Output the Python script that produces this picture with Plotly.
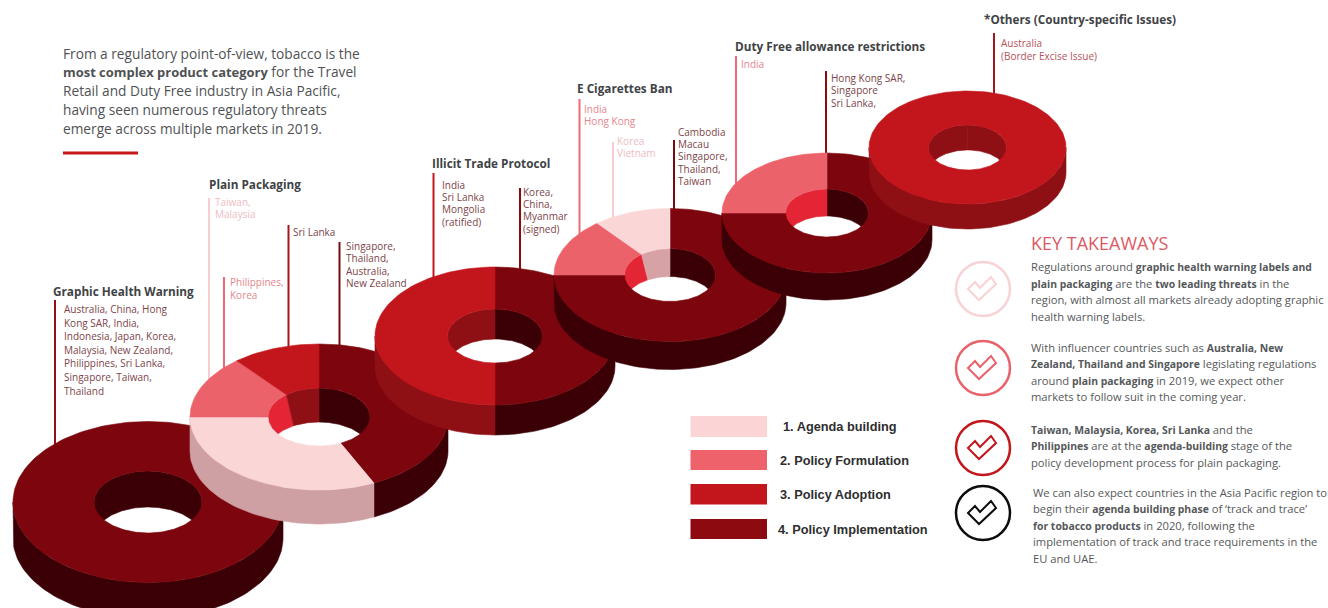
import re

import numpy as np
import plotly.graph_objects as go

# Policy stages used to colour the rings
STAGE_NAMES = ["1. Agenda building", "2. Policy Formulation", "3. Policy Adoption", "4. Policy Implementation"]

# Share of markets in each stage, clockwise from twelve o'clock
GHW_STAGES = [4]
GHW_SHARES = [100]
PLAIN_STAGES = [4, 1, 2, 3]
PLAIN_SHARES = [43, 32, 14, 11]
ILLICIT_STAGES = [4, 3]
ILLICIT_SHARES = [50, 50]
ECIG_STAGES = [4, 2, 1]
ECIG_SHARES = [75, 14.2, 10.8]
DUTY_STAGES = [4, 2]
DUTY_SHARES = [75, 25]
OTHERS_STAGES = [3]
OTHERS_SHARES = [100]

# Country call-outs
GHW_LABEL = ["Australia, China, Hong", "Kong SAR, India,", "Indonesia, Japan, Korea,", "Malaysia, New Zealand,",
             "Philippines, Sri Lanka,", "Singapore, Taiwan,", "Thailand"]
PLAIN_AGENDA = ["Taiwan,", "Malaysia"]
PLAIN_FORM = ["Philippines,", "Korea"]
PLAIN_ADOPT = ["Sri Lanka"]
PLAIN_IMPL = ["Singapore,", "Thailand,", "Australia,", "New Zealand"]
ILLICIT_ADOPT = ["India", "Sri Lanka", "Mongolia", "(ratified)"]
ILLICIT_IMPL = ["Korea,", "China,", "Myanmar", "(signed)"]
ECIG_FORM = ["India", "Hong Kong"]
ECIG_AGENDA = ["Korea", "Vietnam"]
ECIG_IMPL = ["Cambodia", "Macau", "Singapore,", "Thailand,", "Taiwan"]
DUTY_FORM = ["India"]
DUTY_IMPL = ["Hong Kong SAR,", "Singapore", "Sri Lanka,"]
OTHERS_ADOPT = ["Australia", "(Border Excise Issue)"]

INTRO = ["From a regulatory point-of-view, tobacco is the",
         "<b>most complex product category</b> for the Travel",
         "Retail and Duty Free industry in Asia Pacific,",
         "having seen numerous regulatory threats",
         "emerge across multiple markets in 2019."]
TAKEAWAY_1 = ["Regulations around <b>graphic health warning labels and</b>",
              "<b>plain packaging</b> are the <b>two leading threats</b> in the",
              "region, with almost all markets already adopting graphic",
              "health warning labels."]
TAKEAWAY_2 = ["With influencer countries such as <b>Australia, New</b>",
              "<b>Zealand, Thailand and Singapore</b> legislating regulations",
              "around <b>plain packaging</b> in 2019, we expect other",
              "markets to follow suit in the coming year."]
TAKEAWAY_3 = ["<b>Taiwan, Malaysia, Korea, Sri Lanka</b> and the",
              "<b>Philippines</b> are at the <b>agenda-building</b> stage of the",
              "policy development process for plain packaging."]
TAKEAWAY_4 = ["We can also expect countries in the Asia Pacific region to",
              "begin their <b>agenda building phase</b> of \u2018track and trace\u2019",
              "<b>for tobacco products</b> in 2020, following the",
              "implementation of track and trace requirements in the",
              "EU and UAE."]

# Styling per stage: top face, outer wall, inner wall
FACE = {1: "#fbd6d7", 2: "#ec626b", 3: "#c2161c", 4: "#7d060e"}
OUTER = {1: "#cfa0a3", 2: "#c04a52", 3: "#8e1014", 4: "#3b0006"}
INNER = {1: "#d6a2a6", 2: "#e32535", 3: "#8e1014", 4: "#3b0006"}
LEGEND_COL = {1: "#fbd5d6", 2: "#ee626b", 3: "#c2161c", 4: "#8c0a10"}

# Ring placement: centre x/y, outer radii, inner radii, thickness
RINGS = [
    (GHW_STAGES, GHW_SHARES, 148, 502, 135, 80.5, 54, 31, 36),
    (PLAIN_STAGES, PLAIN_SHARES, 319, 417, 129, 73, 51, 29, 34),
    (ILLICIT_STAGES, ILLICIT_SHARES, 495, 336, 120, 69, 47.5, 27, 30),
    (ECIG_STAGES, ECIG_SHARES, 670, 275, 116, 66.5, 45.5, 26.5, 28),
    (DUTY_STAGES, DUTY_SHARES, 827, 213, 105, 60, 41.5, 24, 27),
    (OTHERS_STAGES, OTHERS_SHARES, 967.5, 147.5, 98.5, 56.5, 39, 22.5, 25),
]


def arc(cx, cy, rx, ry, a0, a1, lean=0.0):
    """Points on an ellipse; angles in degrees, clockwise from the top.

    lean pulls the points towards twelve o'clock, which gives the hole's
    wall dividers their perspective slant.
    """
    n = max(2, int(abs(a1 - a0) / 2) + 1)
    a = np.linspace(a0, a1, n)
    t = np.radians(a - lean * np.sin(np.radians(2 * a)))
    return cx + rx * np.sin(t), cy - ry * np.cos(t)


def patch(fig, x, y, colour):
    fig.add_trace(go.Scatter(x=x, y=y, mode="lines", fill="toself", fillcolor=colour,
                             line=dict(color=colour, width=0.6), hoverinfo="skip", showlegend=False))


def band(fig, xa, ya, xb, yb, colour):
    patch(fig, np.r_[xa, xb[::-1], xa[:1]], np.r_[ya, yb[::-1], ya[:1]], colour)


def draw_ring(fig, stages, shares, cx, cy, rx, ry, irx, iry, depth):
    edges = np.r_[0, np.cumsum(shares)] / np.sum(shares) * 360
    spans = list(zip(stages, edges[:-1], edges[1:]))
    # outer wall, front half only
    for stage, a0, a1 in spans:
        lo, hi = max(a0, 90), min(a1, 270)
        if hi > lo:
            x, y = arc(cx, cy, rx, ry, lo, hi)
            band(fig, x, y, x, y + depth, OUTER[stage])
    # inner wall, back half only
    for stage, a0, a1 in spans:
        for lo, hi in ((max(a0, 270), min(a1, 360)), (max(a0, 0), min(a1, 90))):
            if hi > lo:
                xa, ya = arc(cx, cy, irx, iry, lo, hi)
                xb, yb = arc(cx, cy + depth, irx, iry, lo, hi, lean=10)
                band(fig, xa, ya, xb, yb, INNER[stage])
    # top face
    for stage, a0, a1 in spans:
        xo, yo = arc(cx, cy, rx, ry, a0, a1)
        xi, yi = arc(cx, cy, irx, iry, a0, a1)
        band(fig, xo, yo, xi, yi, FACE[stage])


fig = go.Figure()
for ring in RINGS:
    draw_ring(fig, *ring)

BODY_FONT = "Open Sans"
shapes, notes = [], []


def text_block(lines, x, y0, step, colour, size, family=BODY_FONT, bold_size=None):
    for i, line in enumerate(lines):
        if bold_size:
            # emphasised runs are set a little smaller so they stay close to the body width
            line = re.sub(r"<b>(.*?)</b>",
                          rf'<span style="font-weight:bold;font-size:{bold_size}px">\1</span>', line)
        notes.append(dict(x=x, y=y0 + i * step, text=line, xref="x", yref="y", showarrow=False,
                          xanchor="left", yanchor="middle", align="left", borderpad=0, borderwidth=0,
                          font=dict(family=family, size=size, color=colour)))


def leader(x, y0, y1, colour):
    shapes.append(dict(type="line", x0=x, x1=x, y0=y0, y1=y1, xref="x", yref="y", layer="below",
                       line=dict(color=colour, width=2)))


# Section headings
for title, x, y in [("Graphic Health Warning", 53, 291), ("Plain Packaging", 209, 184),
                    ("Illicit Trade Protocol", 432, 163), ("E Cigarettes Ban", 577, 88),
                    ("Duty Free allowance restrictions", 735, 46), ("*Others (Country-specific Issues)", 984, 19)]:
    text_block(["<b>" + title + "</b>"], x, y, 0, "#3f4346", 11.75)

# Call-outs and their leader lines
LABEL_DARK = "#7c4449"
LABEL_MID = "#b5525a"
LABEL_FORM = "#e4868d"
LABEL_PALE = "#eebcbf"
leader(55, 300, 445, "#8f1216")
text_block(GHW_LABEL, 64, 309, 13.6, LABEL_DARK, 10)
leader(209, 198, 382, "#f7cdd0")
text_block(PLAIN_AGENDA, 215, 201.5, 12.5, LABEL_PALE, 10)
leader(224, 277, 368, "#ee6a72")
text_block(PLAIN_FORM, 230, 282, 12.5, LABEL_FORM, 10)
leader(288.5, 225, 350, "#a5161c")
text_block(PLAIN_ADOPT, 293, 232, 12.5, LABEL_DARK, 10)
leader(339.5, 242, 350, "#7a0a10")
text_block(PLAIN_IMPL, 346, 246, 12.3, LABEL_DARK, 10)
leader(433.5, 173, 280, "#c8161d")
text_block(ILLICIT_ADOPT, 441.5, 185, 12.2, LABEL_DARK, 10)
leader(520, 188, 275, "#8b0a10")
text_block(ILLICIT_IMPL, 523, 192, 12.2, LABEL_DARK, 10)
leader(579.5, 99, 240, "#ee6a72")
text_block(ECIG_FORM, 583.5, 109, 12.3, LABEL_FORM, 10)
leader(613, 142, 222, "#f7cdd0")
text_block(ECIG_AGENDA, 617, 140.5, 12.4, LABEL_PALE, 10)
leader(674, 140, 212, "#7a0a10")
text_block(ECIG_IMPL, 678, 132, 12.2, LABEL_DARK, 10)
leader(736, 56, 188, "#ee6a72")
text_block(DUTY_FORM, 741, 64, 12, LABEL_FORM, 10)
leader(826, 71, 158, "#8b0a10")
text_block(DUTY_IMPL, 831, 78, 12.4, LABEL_DARK, 10)
leader(994, 33, 96, "#a5161c")
text_block(OTHERS_ADOPT, 1001, 43, 12.5, LABEL_MID, 10)

# Intro paragraph with its short red rule
text_block(INTRO, 63, 53, 18.9, "#4f5254", 13.7, bold_size=12.95)
shapes.append(dict(type="line", x0=63, x1=138, y0=153, y1=153, xref="x", yref="y", line=dict(color="#c8161d", width=3)))

# Stage key
for i, (name, tx, top, bottom) in enumerate(zip(STAGE_NAMES, [783, 780, 780, 778], [416, 450, 484, 519], [437, 470, 504.5, 539])):
    shapes.append(dict(type="rect", x0=690.5, x1=767, y0=top, y1=bottom, xref="x", yref="y",
                       fillcolor=LEGEND_COL[i + 1], line=dict(width=0)))
    text_block(["<b>" + name + "</b>"], tx, (top + bottom) / 2, 0, "#2e2e2e", 12.75, "Liberation Sans")

# Key takeaways
text_block(["KEY TAKEAWAYS"], 1031, 243, 0, "#dc5a63", 18)
BODY = "#55585a"
text_block(TAKEAWAY_1, 1031, 266.7, 16.5, BODY, 11.2, bold_size=10.4)
text_block(TAKEAWAY_2, 1031, 347, 16.6, BODY, 11.2, bold_size=10.4)
text_block(TAKEAWAY_3, 1031, 429, 16.5, BODY, 11.2, bold_size=10.4)
text_block(TAKEAWAY_4, 1033, 492, 16.5, BODY, 11.2, bold_size=10.4)

# Tick badges beside the takeaways
TICK = [(-15, 0), (-8, -7), (-3, -1), (8, -12), (13, -5), (-4, 11)]
for cy, colour in [(289, "#f8d2d4"), (368, "#e8626b"), (448, "#c2161c"), (513, "#0c0c0c")]:
    shapes.append(dict(type="circle", x0=983 - 27, x1=983 + 27, y0=cy - 27, y1=cy + 27, xref="x", yref="y",
                       line=dict(color=colour, width=2.5)))
    path = "M " + " L ".join(f"{983 + dx},{cy + dy}" for dx, dy in TICK) + " Z"
    shapes.append(dict(type="path", path=path, xref="x", yref="y", line=dict(color=colour, width=2)))

fig.update_layout(
    width=1328, height=608, margin=dict(l=0, r=0, t=0, b=0),
    paper_bgcolor="white", plot_bgcolor="white", showlegend=False,
    xaxis=dict(range=[0, 1328], visible=False, fixedrange=True),
    yaxis=dict(range=[608, 0], visible=False, fixedrange=True),
    shapes=shapes, annotations=notes,
)
fig.write_html("out.html", config={"displayModeBar": False})
